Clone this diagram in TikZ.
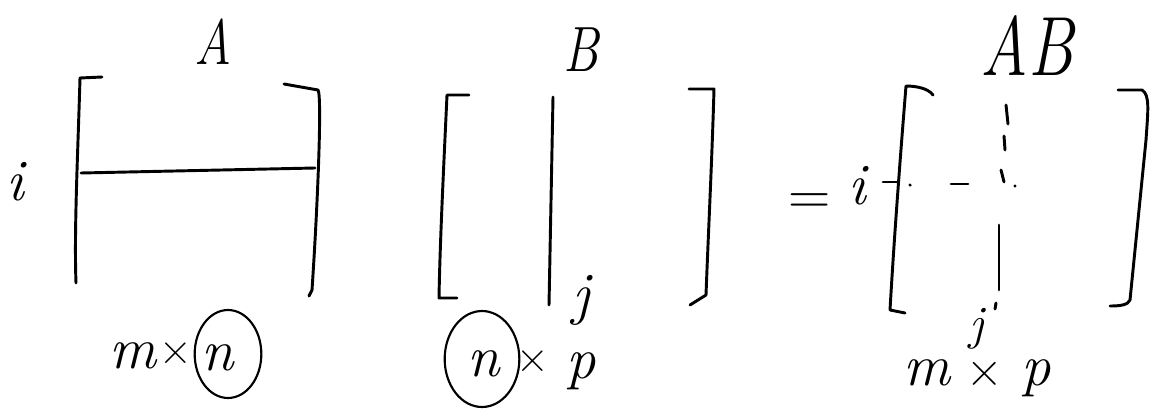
\documentclass[tikz,border=0pt]{standalone}
\begin{document}
\begin{tikzpicture}[x=0.75pt,y=-0.75pt,line cap=round,line join=round,
  ink/.style={line width=2.2pt,black},
  thin ink/.style={line width=1.6pt,black},
  lbl/.style={inner sep=0pt,font=\fontsize{44}{48}\selectfont\itshape},
  op/.style={inner sep=0pt,font=\fontsize{34}{38}\selectfont},
  big/.style={inner sep=0pt,font=\fontsize{48}{52}\selectfont\itshape},
  huge/.style={inner sep=0pt,font=\fontsize{60}{64}\selectfont\itshape}]
\useasboundingbox (0,0) rectangle (1151,417);
% ---------- A ----------
\node[big] (tA) at (213,42) {\scalebox{0.8}[1]{A}};
\node[lbl,anchor=base] (iA) at (15,200) {i};
\draw[ink] (102,77) -- (80,78) .. controls (78,150) and (74,230) .. (76,283);
\draw[ink] (284,84) -- (318,90) .. controls (322,95) and (318,200) .. (312,290) -- (309,296);
\draw[ink] (81,173) -- (315,168);
\node[lbl,anchor=base] (mA) at (133,368) {m};
\node[op,anchor=base] (xA) at (176,364) {×};
\node[lbl,anchor=base] (nA) at (218,370) {n};
\draw[thin ink] (228,354) ellipse [x radius=25pt,y radius=33pt];
% ---------- B ----------
\node[big] (tB) at (581,50) {\scalebox{0.8}[1]{B}};
\draw[ink] (469,95) -- (447,95) .. controls (444,160) and (440,240) .. (439,298) -- (457,298);
\draw[ink] (553,97) -- (549,305);
\node[lbl] (jB) at (581,300) {j};
\draw[ink] (689,89) -- (714,89) .. controls (712,160) and (708,240) .. (706,295) -- (690,305);
\node[lbl,anchor=base] (nB) at (484,376) {n};
\draw[thin ink] (482,359) ellipse [x radius=28pt,y radius=36pt];
\node[op,anchor=base] (xB) at (533,372) {×};
\node[lbl,anchor=base] (pB) at (581,378) {p};
% ---------- AB ----------
\node[huge] (tAB) at (1027,46) {\scalebox{0.82}[1.05]{AB}};
\node[lbl,font=\fontsize{44}{48}\selectfont] (eq) at (810,204) {=};
\node[lbl,anchor=base] (iAB) at (857,204) {i};
\draw[ink] (883,182) -- (897,182);
\draw[ink] (933,95) .. controls (928,88) and (915,86) .. (906,86) .. controls (900,160) and (894,240) .. (890,310) -- (905,313);
\draw[ink] (951,184) -- (968,184);
\fill (910,185) circle (1.3pt);
\draw[ink] (1006,105) -- (1008,124);
\draw[ink] (1004,136) -- (1005,150);
\draw[ink] (1001,170) -- (1004,182);
\fill (1015,186) circle (1.2pt);
\draw[ink] (999,225) -- (999,290);
\draw[ink] (996,303) -- (995,309);
\node[lbl,font=\fontsize{36}{40}\selectfont\itshape] (jAB) at (977,329) {j};
\draw[ink] (1118,90) -- (1142,90) .. controls (1150,95) and (1148,110) .. (1146,140) .. controls (1140,200) and (1134,260) .. (1130,300) .. controls (1128,305) and (1120,306) .. (1110,306);
\node[lbl,anchor=base] (mAB) at (927,385) {m};
\node[op,anchor=base,font=\fontsize{38}{42}\selectfont] (xAB) at (985,386) {×};
\node[lbl,anchor=base] (pAB) at (1036,385) {p};
\end{tikzpicture}
\end{document}
